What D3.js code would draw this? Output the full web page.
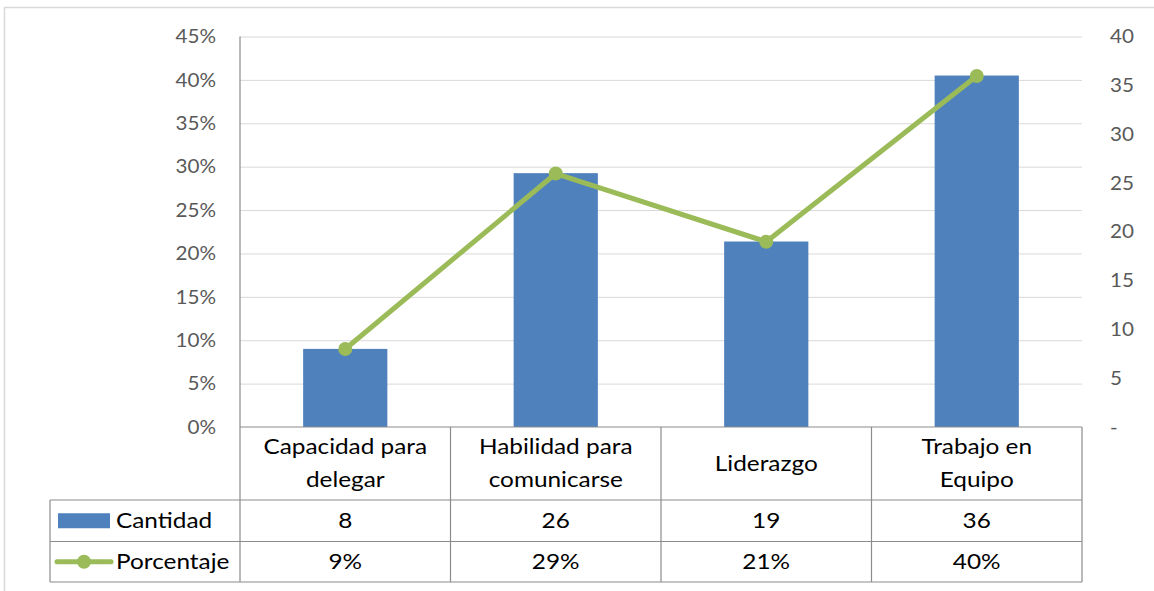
<!DOCTYPE html>
<html><head><meta charset="utf-8">
<script src="https://cdn.jsdelivr.net/npm/d3@7"></script>
<style>body{margin:0;background:#fff}svg{display:block}</style>
</head><body>
<script>
const categories = ["Capacidad para\ndelegar", "Habilidad para\ncomunicarse", "Liderazgo", "Trabajo en\nEquipo"];
const cantidad = [8, 26, 19, 36];
const porcentaje = [0.0899, 0.2921, 0.2135, 0.4045];
const leftTicks = [0, 0.05, 0.10, 0.15, 0.20, 0.25, 0.30, 0.35, 0.40, 0.45];
const rightTicks = [0, 5, 10, 15, 20, 25, 30, 35, 40];
const seriesNames = ["Cantidad", "Porcentaje"];

const W = 1154, H = 591;
const m = {left: 240, right: 1082, top: 36.5, bottom: 427};
const tableRows = [427, 500, 541.5, 582];
const legendLeft = 50;
const font = "Lato, 'Liberation Sans', sans-serif";
const blue = "#4F81BD", green = "#9BBB59", grid = "#D9D9D9", lineCol = "#8C8C8C";
const sx = 1.16, sxTick = 1.06;

const svg = d3.select("body").append("svg").attr("width", W).attr("height", H);
svg.append("rect").attr("x", 4.5).attr("y", 7.5).attr("width", W + 20).attr("height", H + 20)
  .attr("fill", "#fff").attr("stroke", grid).attr("stroke-width", 1.5);

const x = d3.scaleBand().domain(categories).range([m.left, m.right]).paddingInner(0).paddingOuter(0);
const yL = d3.scaleLinear().domain([0, 0.45]).range([m.bottom, m.top]);
const yR = d3.scaleLinear().domain([0, 40]).range([m.bottom, m.top]);

// gridlines
const gGrid = svg.append("g").attr("transform", `translate(${m.left},0)`)
  .call(d3.axisLeft(yL).tickValues(leftTicks.slice(1)).tickSize(-(m.right - m.left)).tickFormat(""));
gGrid.select(".domain").remove();
gGrid.selectAll("line").attr("stroke", grid).attr("stroke-width", 1);

// left axis labels
const gL = svg.append("g").attr("transform", `translate(${m.left},0)`)
  .call(d3.axisLeft(yL).tickValues(leftTicks).tickSize(0).tickPadding(0).tickFormat(d3.format(".0%")));
gL.select(".domain").remove();
gL.selectAll("text").attr("font-family", font).attr("font-size", 19.5).attr("fill", "#595959")
  .attr("x", 0).attr("transform", `translate(-24,0) scale(${sxTick},1)`);

// right axis labels
const gR = svg.append("g").attr("transform", `translate(${m.right},0)`)
  .call(d3.axisRight(yR).tickValues(rightTicks).tickSize(0).tickPadding(0).tickFormat(d => d === 0 ? "-" : d));
gR.select(".domain").remove();
gR.selectAll("text").attr("font-family", font).attr("font-size", 19.5).attr("fill", "#595959")
  .attr("x", 0).attr("transform", `translate(28,0) scale(${sxTick},1)`);

// bars (Cantidad, right axis)
const bw = x.bandwidth() * 0.4;
svg.append("g").selectAll("rect").data(cantidad).join("rect")
  .attr("x", (d, i) => x(categories[i]) + x.bandwidth() / 2 - bw / 2)
  .attr("y", d => yR(d)).attr("width", bw).attr("height", d => yR(0) - yR(d))
  .attr("fill", blue);

// left axis line
svg.append("line").attr("x1", m.left).attr("x2", m.left).attr("y1", m.top).attr("y2", m.bottom)
  .attr("stroke", lineCol).attr("stroke-width", 1.2);

// line (Porcentaje, left axis)
const cx = (i) => x(categories[i]) + x.bandwidth() / 2;
svg.append("path").datum(porcentaje)
  .attr("d", d3.line().x((d, i) => cx(i)).y(d => yL(d)))
  .attr("fill", "none").attr("stroke", green).attr("stroke-width", 5).attr("stroke-linejoin", "round");
svg.append("g").selectAll("circle").data(porcentaje).join("circle")
  .attr("cx", (d, i) => cx(i)).attr("cy", d => yL(d)).attr("r", 7).attr("fill", green);

// data table
const tg = svg.append("g").attr("stroke", lineCol).attr("stroke-width", 1.2);
tg.append("line").attr("x1", m.left).attr("x2", m.right).attr("y1", tableRows[0]).attr("y2", tableRows[0]);
tableRows.slice(1).forEach(yv => tg.append("line").attr("x1", legendLeft).attr("x2", m.right).attr("y1", yv).attr("y2", yv));
tg.append("line").attr("x1", legendLeft).attr("x2", legendLeft).attr("y1", tableRows[1]).attr("y2", tableRows[3]);
categories.forEach(c => tg.append("line").attr("x1", x(c)).attr("x2", x(c)).attr("y1", tableRows[0]).attr("y2", tableRows[3]));
tg.append("line").attr("x1", m.right).attr("x2", m.right).attr("y1", tableRows[0]).attr("y2", tableRows[3]);

function tableText(px, py, str, anchor) {
  return svg.append("text").attr("transform", `translate(${px},${py}) scale(${sx},1)`)
    .attr("dy", "0.35em").attr("text-anchor", anchor || "middle")
    .attr("font-family", font).attr("font-size", 21).attr("fill", "#000").text(str);
}

// category labels
categories.forEach(c => {
  const lines = c.split("\n");
  const mid = (tableRows[0] + tableRows[1]) / 2;
  const lh = 33;
  lines.forEach((l, k) => tableText(x(c) + x.bandwidth() / 2, mid + (k - (lines.length - 1) / 2) * lh, l));
});

// values
const pf = d3.format(".0%");
[cantidad, porcentaje].forEach((arr, r) => {
  const mid = (tableRows[r + 1] + tableRows[r + 2]) / 2;
  arr.forEach((d, i) => tableText(cx(i), mid, r === 0 ? d : pf(d)));
});

// legend keys
const r1 = (tableRows[1] + tableRows[2]) / 2, r2 = (tableRows[2] + tableRows[3]) / 2;
svg.append("rect").attr("x", 58).attr("y", r1 - 7.5).attr("width", 52).attr("height", 15).attr("fill", blue);
svg.append("line").attr("x1", 57).attr("x2", 111).attr("y1", r2).attr("y2", r2)
  .attr("stroke", green).attr("stroke-width", 5).attr("stroke-linecap", "round");
svg.append("circle").attr("cx", 84).attr("cy", r2).attr("r", 7).attr("fill", green);
[r1, r2].forEach((yy, k) => tableText(116, yy, seriesNames[k], "start"));
</script>
</body></html>
